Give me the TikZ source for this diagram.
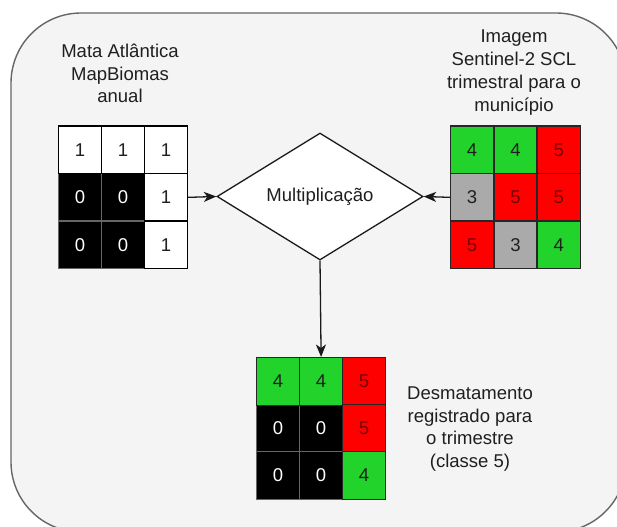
\documentclass[tikz,border=0pt]{standalone}
\usepackage{fontspec}
\setmainfont{Liberation Sans}
\usetikzlibrary{shapes.geometric,arrows.meta}

\definecolor{panelfill}{HTML}{F4F4F4}
\definecolor{panelline}{HTML}{666666}
\definecolor{veg}{HTML}{22D32B}
\definecolor{defor}{HTML}{FF0000}
\definecolor{cloud}{HTML}{AAAAAA}
\definecolor{deforText}{HTML}{7A0000}
\definecolor{gridgray}{HTML}{666666}

\tikzset{
  x=1bp, y=-1bp,
  every node/.style={font=\fontsize{18.6}{22.8}\selectfont, text=black!88},
  cellbase/.style={minimum width=43bp, minimum height=47.5bp, inner sep=0pt, line width=1.2bp, anchor=north west},
  onecell/.style={cellbase, draw=black, fill=white},
  zerocell/.style={cellbase, draw=gridgray, fill=black, text=white},
  vegcell/.style={cellbase, draw=black!85, fill=veg},
  deforcell/.style={cellbase, draw=black!85, fill=defor, text=deforText},
  cloudcell/.style={cellbase, draw=black!85, fill=cloud},
  caption/.style={align=center},
  arr/.style={draw=black!90, line width=1.3bp, -{Stealth[length=12.5bp,width=10bp,inset=3.5bp]}},
}

\begin{document}
\begin{tikzpicture}
\useasboundingbox (0,0) rectangle (617,527);
\clip (0,0) rectangle (617,527);

% outer panel
\draw[draw=panelline, fill=panelfill, line width=1.4bp, rounded corners=70bp]
  (11,13) rectangle (626,532);

% annual Mata Atlantica mask (MapBiomas)
\node[zerocell] (L21) at (58,173) {0};
\node[zerocell] (L22) at (101,173) {0};
\node[zerocell] (L31) at (58,220.5) {0};
\node[zerocell] (L32) at (101,220.5) {0};
\node[onecell] (L11) at (58,125.5) {1};
\node[onecell] (L12) at (101,125.5) {1};
\node[onecell] (L13) at (144,125.5) {1};
\node[onecell] (L23) at (144,173) {1};
\node[onecell] (L33) at (144,220.5) {1};

% quarterly Sentinel-2 SCL image
\node[vegcell]   (R11) at (450,125.5) {4};
\node[vegcell]   (R12) at (493.3,125.5) {4};
\node[deforcell] (R13) at (536.6,125.5) {5};
\node[cloudcell] (R21) at (450,173) {3};
\node[deforcell] (R22) at (493.3,173) {5};
\node[deforcell] (R23) at (536.6,173) {5};
\node[deforcell] (R31) at (450,220.5) {5};
\node[cloudcell] (R32) at (493.3,220.5) {3};
\node[vegcell]   (R33) at (536.6,220.5) {4};

% resulting product
\node[zerocell]  (B21) at (256,404) {0};
\node[zerocell]  (B22) at (299,404) {0};
\node[zerocell]  (B31) at (256,451) {0};
\node[zerocell]  (B32) at (299,451) {0};
\node[vegcell]   (B11) at (256,357) {4};
\node[vegcell]   (B12) at (299,357) {4};
\node[deforcell] (B13) at (342,357) {5};
\node[deforcell] (B23) at (342,404) {5};
\node[vegcell]   (B33) at (342,451) {4};

% operation
\node[diamond, draw=black!90, fill=white, line width=1.3bp, inner sep=0pt,
      minimum width=206bp, minimum height=127bp] (mult) at (320,196.5) {Multiplicação};

% captions
\node[caption] (capL) at (120,73.5) {Mata Atlântica\\MapBiomas\\anual};
\node[caption] (capR) at (514,72.5) {Imagem\\Sentinel-2 SCL\\trimestral para o\\município};
\node[caption] (capB) at (470,429) {Desmatamento\\registrado para\\o trimestre\\(classe 5)};

% connectors
\draw[arr] (L23.east) -- (mult.west);
\draw[arr] (R21.west) -- (mult.east);
\draw[arr] (mult.south) -- (B12.north);
\end{tikzpicture}
\end{document}
